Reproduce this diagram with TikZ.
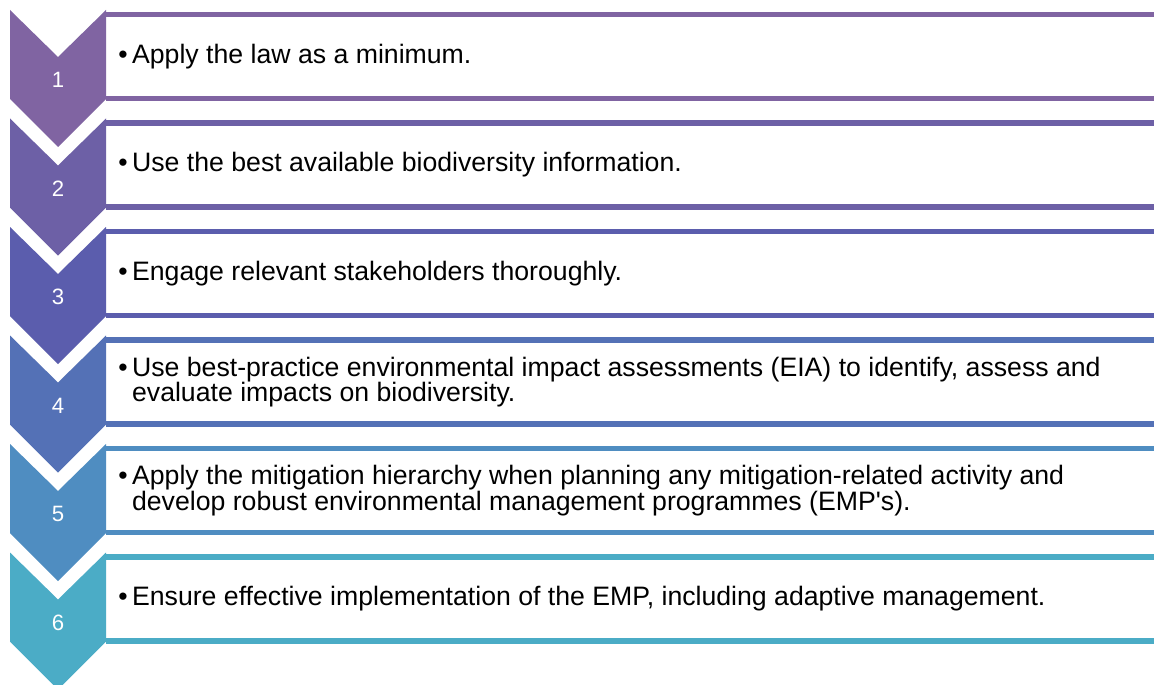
\documentclass[tikz,border=0pt]{standalone}
\usepackage{fontspec}
\setmainfont{Liberation Sans}[Ligatures=TeXOff]
\definecolor{stepA}{RGB}{128,100,162}
\definecolor{stepB}{RGB}{109,96,166}
\definecolor{stepC}{RGB}{91,93,173}
\definecolor{stepD}{RGB}{84,113,182}
\definecolor{stepE}{RGB}{79,141,193}
\definecolor{stepF}{RGB}{75,172,198}
% one row: chevron with its number, and a text band framed above and below
\newcommand\processrow[3]{%
  \pgfmathsetmacro\rowtop{10+(#1-1)*108.5}
  \fill[#2] (10,\rowtop) -- (58,\rowtop+47) -- (106,\rowtop) -- (106,\rowtop+89)
        -- (58,\rowtop+137) -- (10,\rowtop+89) -- cycle;
  \node[numlabel] (n#1) at (58,\rowtop+70) {#1};
  \draw[bandline,#2] (106,\rowtop+4.5) coordinate (bl#1) -- (1154,\rowtop+4.5) coordinate (br#1);
  \draw[bandline,#2] (106,\rowtop+88.5) coordinate (bbl#1) -- (1154,\rowtop+88.5) coordinate (bbr#1);
  \node[itemtext] (t#1) at (131.7,\rowtop+46.5) {\llap{\textbullet\hspace{2.2pt}}#3};
}
\begin{document}
\begin{tikzpicture}[x=0.5pt,y=-0.5pt,
  numlabel/.style={text=white, font=\fontsize{11.1}{13}\selectfont, inner sep=0pt},
  bandline/.style={line width=2.75pt},
  itemtext/.style={anchor=west, align=left, inner sep=0pt, text=black,
    font=\fontsize{13.33}{12.75}\selectfont}]
\useasboundingbox (0,0) rectangle (1154,684);
\clip (0,0) rectangle (1154,684);
\fill[white] (0,0) rectangle (1154,684);
\processrow{1}{stepA}{Apply the law as a minimum.}
\processrow{2}{stepB}{Use the best available biodiversity information.}
\processrow{3}{stepC}{Engage relevant stakeholders thoroughly.}
\processrow{4}{stepD}{Use best-practice environmental impact assessments (EIA) to identify, assess and\\evaluate impacts on biodiversity.}
\processrow{5}{stepE}{Apply the mitigation hierarchy when planning any mitigation-related activity and\\develop robust environmental management programmes (EMP's).}
\processrow{6}{stepF}{Ensure effective implementation of the EMP, including adaptive management.}
\end{tikzpicture}
\end{document}
